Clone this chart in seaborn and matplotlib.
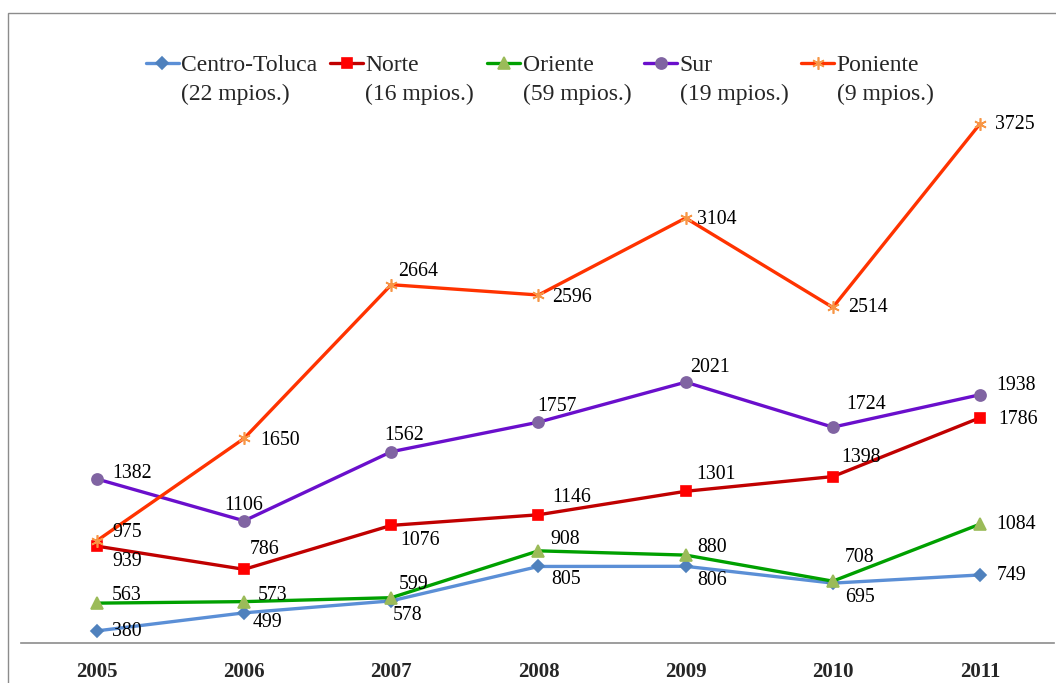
import numpy as np
import pandas as pd
import seaborn as sns
import matplotlib.pyplot as plt
from matplotlib.patches import Rectangle
from matplotlib.legend_handler import HandlerLine2D

years = [2005, 2006, 2007, 2008, 2009, 2010, 2011]
centro_toluca = [380, 499, 578, 805, 806, 695, 749]
norte = [939, 786, 1076, 1146, 1301, 1398, 1786]
oriente = [563, 573, 599, 908, 880, 708, 1084]
sur = [1382, 1106, 1562, 1757, 2021, 1724, 1938]
poniente = [975, 1650, 2664, 2596, 3104, 2514, 3725]
names = ["Centro-Toluca", "Norte", "Oriente", "Sur", "Poniente"]
municipios = [22, 16, 59, 19, 9]

sns.set_style("white")
plt.rcParams['font.family'] = ['Liberation Serif', 'DejaVu Serif']

# style per series: line colour, marker, marker colour, marker size
styles = {
    "Centro-Toluca": ("#5B8FD6", "D", "#4F81BD", 6),
    "Norte": ("#C00000", "s", "#FF0000", 7),
    "Oriente": ("#00A000", "^", "#9BBB59", 8),
    "Sur": ("#6A0FCC", "o", "#8064A2", 8),
    "Poniente": ("#FF3300", (6, 2, 0), "#F79646", 9),
}

# label offsets in pixels (dx, dy) from the point
offsets = {
    "Centro-Toluca": [(15, -1), (9, -10), (1, -15), (13, -13), (12, -14), (12, -14), (17, -1)],
    "Norte": [(15, -15), (6, 20), (9, -15), (14, 17), (11, 17), (8, 19), (18, -2)],
    "Oriente": [(15, 8), (14, 6), (7, 13), (12, 11), (12, 8), (12, 24), (16, 0)],
    "Sur": [(15, 6), (-20, 15), (-7, 16), (-1, 16), (4, 15), (13, 23), (16, 9)],
    "Poniente": [(15, 8), (16, -2), (7, 13), (14, -2), (11, -1), (15, 0), (15, -1)],
}

df = pd.DataFrame({"year": years, "Centro-Toluca": centro_toluca, "Norte": norte,
                   "Oriente": oriente, "Sur": sur, "Poniente": poniente})

fig = plt.figure(figsize=(10.56, 6.83), dpi=100)
ax = fig.add_axes([21 / 1056, 40 / 683, 1033 / 1056, 560.8 / 683])

for name in names:
    lc, mk, mc, ms = styles[name]
    sns.lineplot(data=df, x="year", y=name, ax=ax, color=lc, lw=2.4,
                 marker=mk, markersize=ms, markerfacecolor=mc, markeredgecolor=mc,
                 markeredgewidth=1.2, label=name)
    for i, (x, v) in enumerate(zip(years, df[name])):
        dx, dy = offsets[name][i]
        ax.annotate(str(v), (x, v), xytext=(dx, dy), textcoords="offset pixels",
                    ha="left", va="center", fontsize=14.3, color="black")

ax.set_xlim(2004.484, 2011.503)
ax.set_ylim(300, 4000)
ax.set_xticks(years)
ax.set_xticklabels([str(y) for y in years], fontweight="bold", fontsize=15)
ax.set_yticks([])
ax.set_xlabel("")
ax.set_ylabel("")
ax.tick_params(axis="x", length=0, pad=14)
for s in ["top", "right", "left"]:
    ax.spines[s].set_visible(False)
ax.spines["bottom"].set_color("#8c8c8c")
ax.spines["bottom"].set_linewidth(1.2)
ax.patch.set_alpha(0)
ax.get_legend().remove()


class RaisedHandler(HandlerLine2D):
    def create_artists(self, legend, orig_handle, xdescent, ydescent,
                       width, height, fontsize, trans):
        return super().create_artists(legend, orig_handle, xdescent,
                                      ydescent - 1.45 * fontsize, width, height,
                                      fontsize, trans)


handles = ax.get_lines()[:len(names)]
labels = [f"{n}\n({m} mpios.)" for n, m in zip(names, municipios)]
leg = fig.legend(handles, labels, loc="center", bbox_to_anchor=(0.511, 1 - 80 / 683),
                 ncol=5, frameon=False, fontsize=17, handlelength=1.4, handletextpad=0.1,
                 columnspacing=0.55, handler_map={h: RaisedHandler() for h in handles})
for t in leg.get_texts():
    t.set_linespacing(1.45)

fig.patches.append(Rectangle((8 / 1056, -0.1), 1.2, 1 - 13 / 683 + 0.1,
                             transform=fig.transFigure, fill=False,
                             edgecolor="#8c8c8c", lw=1))

fig.savefig("out.png", dpi=100)
